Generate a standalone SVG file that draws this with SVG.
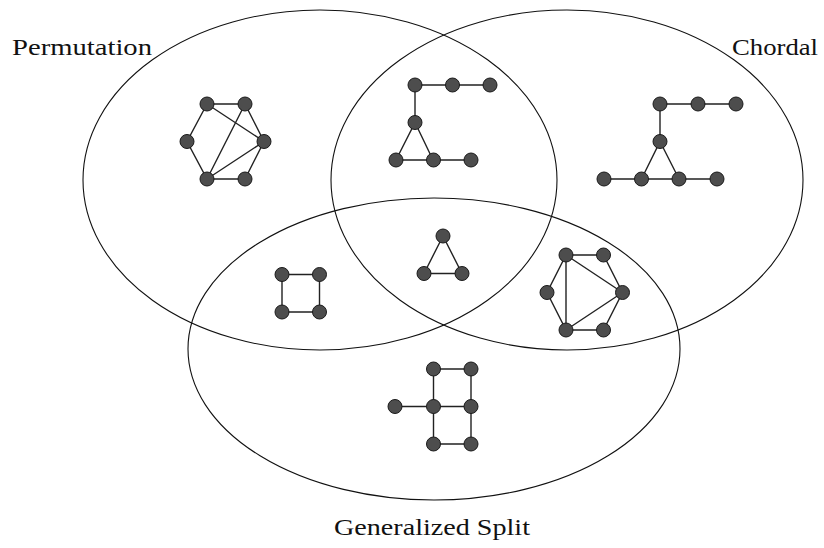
<svg xmlns="http://www.w3.org/2000/svg" width="824" height="548" viewBox="0 0 824 548">
<style>
.set{fill:none;stroke:#111;stroke-width:1.1}
.lbl{font-family:"Liberation Serif","Times New Roman",serif;font-size:23px;fill:#111}
.e{stroke:#222;stroke-width:1.4;fill:none}
.n{fill:#4d4d4d;stroke:#1a1a1a;stroke-width:1}
</style>
<rect width="824" height="548" fill="#fff"/>
<g id="sets">
<ellipse id="permutation" class="set" cx="320" cy="180" rx="237" ry="170"/>
<ellipse id="chordal" class="set" cx="567" cy="180" rx="236" ry="170"/>
<ellipse id="generalized-split" class="set" cx="434" cy="349" rx="246" ry="151"/>
</g>
<g id="labels">
<text class="lbl" x="12" y="55" textLength="140" lengthAdjust="spacingAndGlyphs">Permutation</text>
<text class="lbl" x="732" y="55" textLength="86" lengthAdjust="spacingAndGlyphs">Chordal</text>
<text class="lbl" x="334" y="535" textLength="196" lengthAdjust="spacingAndGlyphs">Generalized Split</text>
</g>
<g id="connectors">
<!-- permutation graph -->
<path class="e" d="M207,104H245M207,104L187,141.5L207,179H245L264,141.5L245,104M207,104L264,141.5M207,179L245,104M207,179L264,141.5"/>
<!-- permutation ∩ chordal -->
<path class="e" d="M415,85H490M415,85V122.5L396,160H471M415,122.5L433,160"/>
<!-- chordal -->
<path class="e" d="M660,104H736M660,104V141.5L641.5,179M660,141.5L679,179M604,179H717"/>
<!-- triangle -->
<path class="e" d="M443,236L424,273.5H462Z"/>
<!-- square -->
<path class="e" d="M282,274.5H319.5V312H282Z"/>
<!-- chordal ∩ split hexagon -->
<path class="e" d="M566,255H603.5L622.5,292.5L603.5,330H566L547,292.5ZM566,255V330M566,255L622.5,292.5M566,330L622.5,292.5"/>
<!-- split -->
<path class="e" d="M433.5,369H471V444H433.5ZM395,406.5H471"/>
</g>
<g id="nodes">
<g id="perm-graph">
<circle class="n" cx="207" cy="104" r="7"/><circle class="n" cx="245" cy="104" r="7"/>
<circle class="n" cx="187" cy="141.5" r="7"/><circle class="n" cx="264" cy="141.5" r="7"/>
<circle class="n" cx="207" cy="179" r="7"/><circle class="n" cx="245" cy="179" r="7"/>
</g>
<g id="perm-chordal-graph">
<circle class="n" cx="415" cy="85" r="7"/><circle class="n" cx="452.5" cy="85" r="7"/><circle class="n" cx="490" cy="85" r="7"/>
<circle class="n" cx="415" cy="122.5" r="7"/>
<circle class="n" cx="396" cy="160" r="7"/><circle class="n" cx="433.5" cy="160" r="7"/><circle class="n" cx="471" cy="160" r="7"/>
</g>
<g id="chordal-graph">
<circle class="n" cx="660" cy="104" r="7"/><circle class="n" cx="698" cy="104" r="7"/><circle class="n" cx="736" cy="104" r="7"/>
<circle class="n" cx="660" cy="141.5" r="7"/>
<circle class="n" cx="604" cy="179" r="7"/><circle class="n" cx="641.5" cy="179" r="7"/><circle class="n" cx="679" cy="179" r="7"/><circle class="n" cx="717" cy="179" r="7"/>
</g>
<g id="triangle-graph">
<circle class="n" cx="443" cy="236" r="7"/><circle class="n" cx="424" cy="273.5" r="7"/><circle class="n" cx="462" cy="273.5" r="7"/>
</g>
<g id="square-graph">
<circle class="n" cx="282" cy="274.5" r="7"/><circle class="n" cx="319.5" cy="274.5" r="7"/>
<circle class="n" cx="282" cy="312" r="7"/><circle class="n" cx="319.5" cy="312" r="7"/>
</g>
<g id="hexagon-graph">
<circle class="n" cx="566" cy="255" r="7"/><circle class="n" cx="603.5" cy="255" r="7"/>
<circle class="n" cx="547" cy="292.5" r="7"/><circle class="n" cx="622.5" cy="292.5" r="7"/>
<circle class="n" cx="566" cy="330" r="7"/><circle class="n" cx="603.5" cy="330" r="7"/>
</g>
<g id="split-graph">
<circle class="n" cx="433.5" cy="369" r="7"/><circle class="n" cx="471" cy="369" r="7"/>
<circle class="n" cx="395" cy="406.5" r="7"/><circle class="n" cx="433.5" cy="406.5" r="7"/><circle class="n" cx="471" cy="406.5" r="7"/>
<circle class="n" cx="433.5" cy="444" r="7"/><circle class="n" cx="471" cy="444" r="7"/>
</g>
</g>
</svg>
